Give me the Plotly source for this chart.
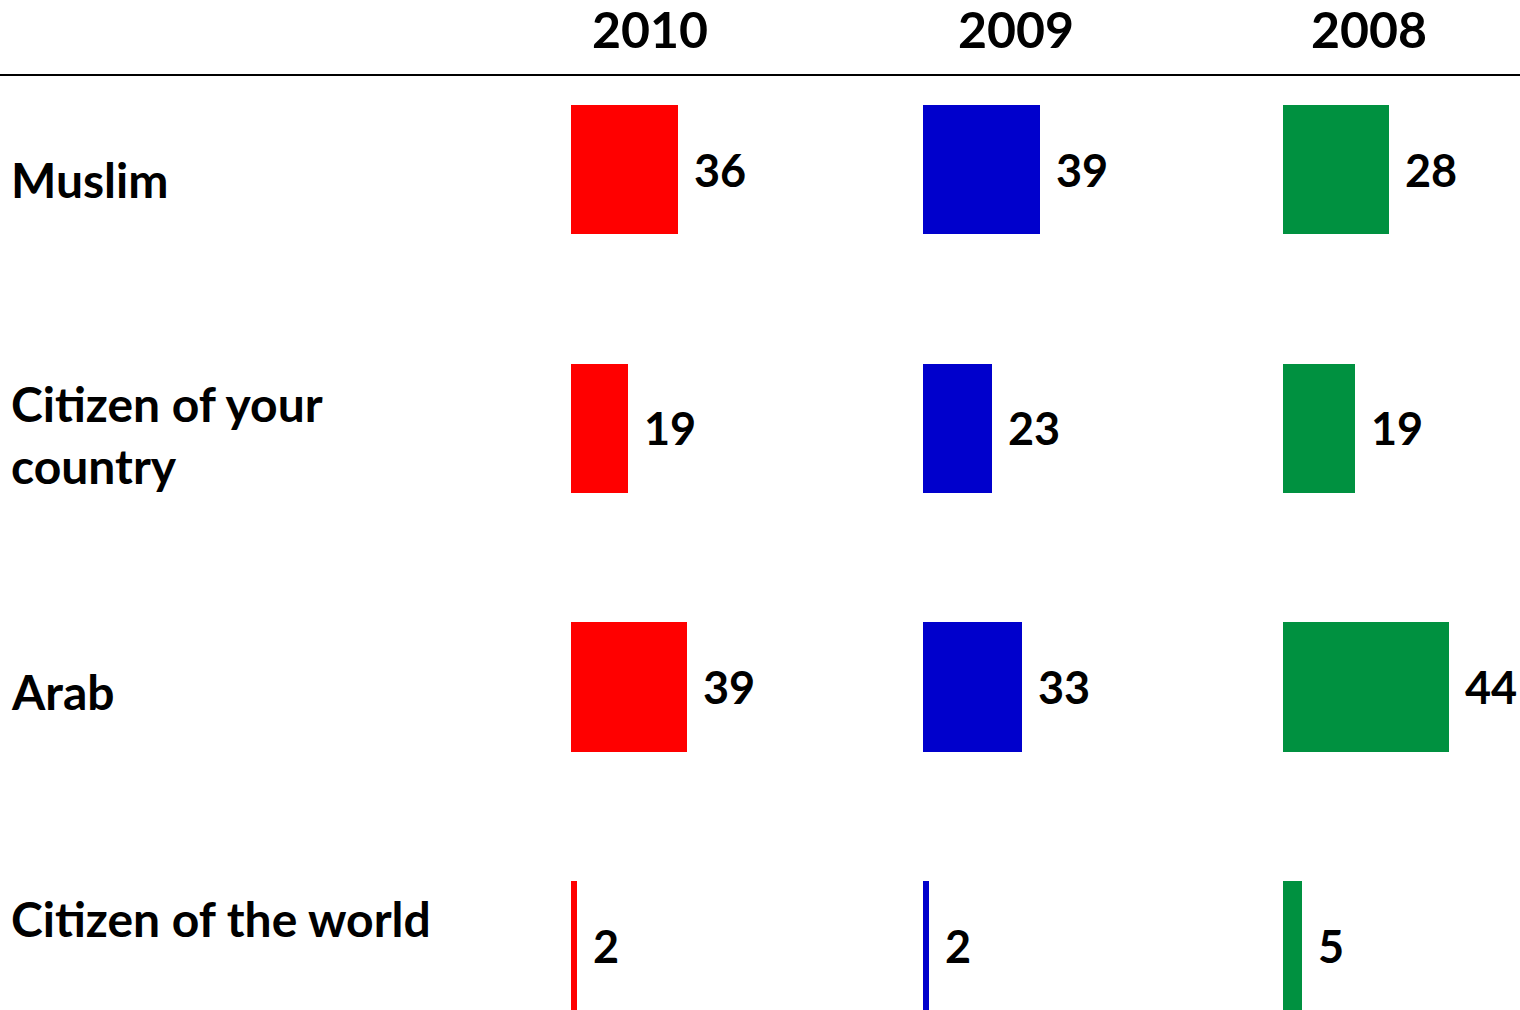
import plotly.graph_objects as go

categories = ["Muslim", "Citizen of your<br>country", "Arab", "Citizen of the world"]
years = ["2010", "2009", "2008"]
values_2010 = [36, 19, 39, 2]
values_2009 = [39, 23, 33, 2]
values_2008 = [28, 19, 44, 5]
series = [values_2010, values_2009, values_2008]
colors = ["#FF0000", "#0000CC", "#009140"]

W, H = 1520, 1010
FONT = "Lato"

# layout of the three small panels (pixel domain start/end and x-range max)
panel_px = [(571, 880), (923, 1240), (1283, 1520)]
px_per_unit = [2.98, 2.99, 3.77]
header_x = [649.5, 1016.5, 1368.5]
label_yshift = [-10, -6, -5, 27]

row_pitch = 258.67
first_center = 169.5
y_top = -first_center / row_pitch
y_bot = (H - first_center) / row_pitch
ypos = list(range(len(categories)))

fig = go.Figure()
annotations = []
for i, (vals, col) in enumerate(zip(series, colors)):
    xa = "x" if i == 0 else f"x{i+1}"
    fig.add_trace(go.Bar(
        x=vals, y=ypos, orientation="h", marker=dict(color=col, line=dict(width=0)),
        width=0.5, xaxis=xa, yaxis="y", showlegend=False, hoverinfo="x+y",
    ))
    for v, yy in zip(vals, ypos):
        annotations.append(dict(
            x=v, y=yy, xref=xa, yref="y", text=f"<b>{v}</b>", showarrow=False,
            xanchor="left", yanchor="middle", xshift=14, yshift=0,
            font=dict(family=FONT, size=45, color="black"),
        ))
    annotations.append(dict(
        x=header_x[i] / W, y=1 - 29 / H, xref="paper", yref="paper",
        text=f"<b>{years[i]}</b>", showarrow=False, xanchor="center", yanchor="middle",
        font=dict(family=FONT, size=50, color="black"),
    ))

for cat, yy, ys in zip(categories, ypos, label_yshift):
    annotations.append(dict(
        x=9 / W, y=yy, xref="paper", yref="y", text=f"<b>{cat}</b>", showarrow=False,
        xanchor="left", yanchor="middle", align="left", yshift=ys,
        font=dict(family=FONT, size=48, color="black"),
    ))

layout = dict(
    width=W, height=H, margin=dict(l=0, r=0, t=0, b=0),
    paper_bgcolor="white", plot_bgcolor="white",
    yaxis=dict(range=[y_bot, y_top], visible=False, domain=[0, 1]),
    annotations=annotations,
    shapes=[dict(type="line", xref="paper", yref="paper", x0=0, x1=1,
                 y0=1 - 75 / H, y1=1 - 75 / H, line=dict(color="black", width=2))],
    bargap=0,
)
for i, ((p0, p1), ppu) in enumerate(zip(panel_px, px_per_unit)):
    key = "xaxis" if i == 0 else f"xaxis{i+1}"
    layout[key] = dict(domain=[p0 / W, p1 / W], range=[0, (p1 - p0) / ppu],
                       visible=False, anchor="y", fixedrange=True)

fig.update_layout(**layout)
fig.write_html("out.html", config={"displayModeBar": False},
               post_script="document.body.style.margin='0';document.body.style.overflow='hidden';")
